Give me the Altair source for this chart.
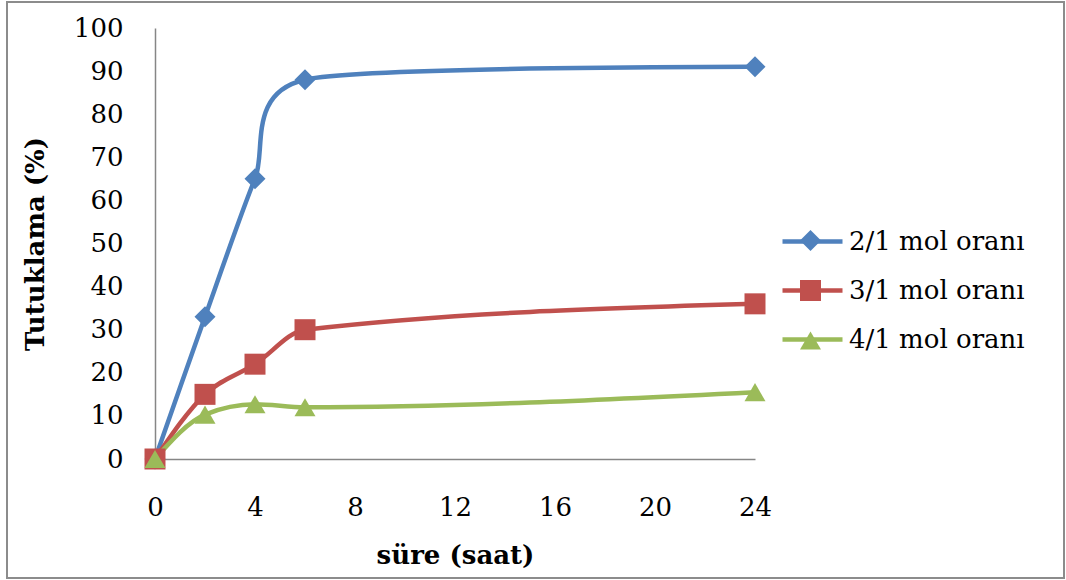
import altair as alt
import pandas as pd

# ---- data ----
hours = [0, 2, 4, 6, 24]
series_names = ["2/1 mol oranı", "3/1 mol oranı", "4/1 mol oranı"]
vals_21 = [0, 33, 65, 88, 91]
vals_31 = [0, 15, 22, 30, 36]
vals_41 = [0, 10.3, 12.7, 12.0, 15.5]
x_ticks = [0, 4, 8, 12, 16, 20, 24]
y_ticks = [0, 10, 20, 30, 40, 50, 60, 70, 80, 90, 100]

colors = ["#4F81BD", "#C0504D", "#9BBB59"]
shapes = ["diamond", "square", "triangle-up"]
FONT = "DejaVu Serif"

rows = []
for name, vals in zip(series_names, [vals_21, vals_31, vals_41]):
    for h, v in zip(hours, vals):
        rows.append({"saat": h, "tutuklama": v, "seri": name, "seri_b": name})
df = pd.DataFrame(rows)

x_enc = alt.X(
    "saat:Q",
    scale=alt.Scale(domain=[0, 24], nice=False, zero=False),
    axis=alt.Axis(
        values=x_ticks, title="süre (saat)", ticks=False, grid=False,
        domainColor="#868686", domainWidth=1.5,
        labelFont=FONT, labelFontSize=26, labelColor="black", labelPadding=35,
        labelFlush=False, labelOverlap=False,
        titleFont=FONT, titleFontSize=26, titleFontWeight="bold", titleColor="black",
        titleX=300, titleY=96, titleAlign="center", titleBaseline="middle",
    ),
)
y_enc = alt.Y(
    "tutuklama:Q",
    scale=alt.Scale(domain=[0, 100], nice=False),
    axis=alt.Axis(
        values=y_ticks, title="Tutuklama (%)", ticks=False, grid=False,
        domainColor="#868686", domainWidth=1.5,
        labelFont=FONT, labelFontSize=26, labelColor="black", labelPadding=32,
        labelFlush=False, labelOverlap=False,
        titleFont=FONT, titleFontSize=26, titleFontWeight="bold", titleColor="black",
        titleX=-120, titleY=215.5, titleAngle=270, titleAlign="center", titleBaseline="middle",
    ),
)

LEG_X = 625

legend_lines = alt.Legend(
    title=None, orient="none", legendX=LEG_X, legendY=181,
    symbolType="stroke", symbolSize=3600, symbolStrokeWidth=4.5,
    labelFont=FONT, labelFontSize=26, labelColor="black", labelOffset=4, labelLimit=0,
    rowPadding=3, padding=0,
)
legend_marks = alt.Legend(
    title=None, orient="none", legendX=LEG_X + 20, legendY=202,
    symbolSize=441, symbolStrokeWidth=0,
    labelExpr="''", labelFontSize=1, labelOffset=0,
    rowPadding=29, padding=0,
)

color_lines = alt.Color(
    "seri:N", scale=alt.Scale(domain=series_names, range=colors), legend=legend_lines
)

# smoothing style per series (mimics the spreadsheet's smoothed lines)
smooth = {
    series_names[0]: dict(interpolate="cardinal", tension=0.3),
    series_names[1]: dict(interpolate="monotone"),
    series_names[2]: dict(interpolate="monotone"),
}

line_layers = [
    alt.Chart(df).transform_filter(alt.datum.seri == name)
    .mark_line(strokeWidth=4.5, **smooth[name])
    .encode(x=x_enc, y=y_enc, color=color_lines)
    for name in series_names
]
lines = alt.layer(*line_layers)

points = alt.Chart(df).mark_point(filled=True, opacity=1, strokeWidth=0, size=441).encode(
    x=x_enc, y=y_enc,
    color=alt.Color("seri_b:N", scale=alt.Scale(domain=series_names, range=colors), legend=legend_marks),
    shape=alt.Shape("seri_b:N", scale=alt.Scale(domain=series_names, range=shapes), legend=legend_marks),
)

frame = alt.Chart(pd.DataFrame({"k": [0]})).mark_rect(
    fill=None, stroke="#8c8c8c", strokeWidth=2
).encode(
    x=alt.value(-148), x2=alt.value(909), y=alt.value(-26), y2=alt.value(550)
)

chart = alt.layer(frame, lines, points).resolve_scale(
    color="independent", shape="independent"
).resolve_legend(
    color="independent", shape="independent"
).properties(
    width=600, height=431,
    padding={"left": 155, "top": 28, "right": 311, "bottom": 121},
    autosize=alt.AutoSizeParams(type="none"),
    background="white",
).configure_view(stroke=None)

chart.save("out.html", embed_options={"renderer": "svg", "actions": False})
